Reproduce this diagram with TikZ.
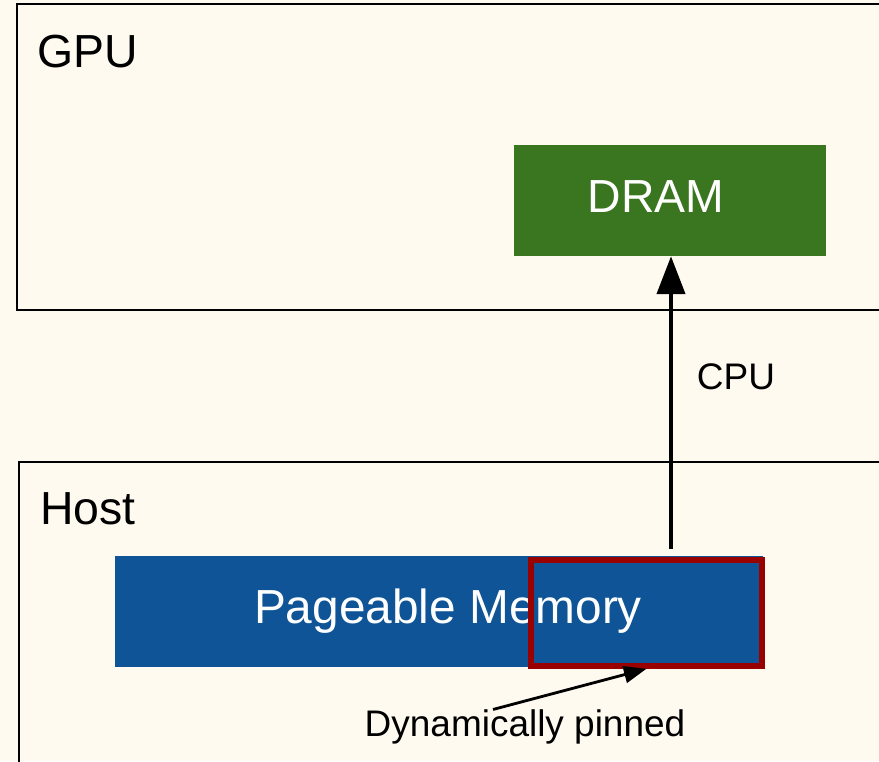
\documentclass[tikz,border=0pt]{standalone}
\usepackage{fontspec}
\setmainfont{Liberation Sans}
\usetikzlibrary{arrows.meta}

\definecolor{paper}{RGB}{255,250,240}
\definecolor{dramgreen}{RGB}{58,118,31}
\definecolor{memblue}{RGB}{14,84,150}
\definecolor{pinred}{RGB}{153,0,0}

\begin{document}
\begin{tikzpicture}[
		bigtext/.style={font=\fontsize{33}{40}\selectfont},
		smalltext/.style={font=\fontsize{26.3}{31}\selectfont},
		memblock/.style={inner sep=0, text=white, bigtext},
		boxlabel/.style={inner sep=0, anchor=base west, bigtext}
	]
		%%%%% START %%%%%
		
		\fill[paper] (0, 0) rectangle (21.975, 19.025);
		\useasboundingbox (0, 0) rectangle (21.975, 19.025);
		
		\draw[line width=0.8pt] (0.425, 18.925) rectangle (22.5, 11.275);
		\draw[line width=0.8pt] (0.475, 7.475) rectangle (22.5, -0.5);
		
		\node[boxlabel] (gpu) at (0.925, 17.325) {GPU};
		\node[boxlabel] (host) at (1.0, 5.9) {Host};
		
		\node[memblock, fill=dramgreen, minimum width=7.8cm, minimum height=2.775cm] (dram) at (16.75, 14.0125) {\raisebox{0.18cm}{DRAM}\kern0.7cm};
		\node[memblock, fill=memblue, minimum width=16.2cm, minimum height=2.775cm, font=\fontsize{34}{40}\selectfont] (pageable) at (10.975, 3.7375) {\kern0.45cm\raisebox{0.1cm}{Pageable Memory}};
		\node[draw=pinred, line width=4pt, inner sep=0, minimum width=5.775cm, minimum height=2.65cm] (pinned) at (16.16, 3.7) {};
		
		\coordinate (cpustart) at (16.775, 5.3);
		\draw[line width=2.8pt, -{Triangle[length=27pt, width=20pt]}] (cpustart) -- (cpustart |- dram.south)
			node[pos=0.587, right=0.6cm, smalltext, inner sep=0] (cpu) {CPU};
		
		\node[smalltext, inner sep=0] (pinlabel) at (13.125, 0.85) {Dynamically pinned};
		\draw[line width=2pt, -{Triangle[length=16pt, width=12pt]}] ([xshift=-0.8cm]pinlabel.north) -- (pinned.south);
		
		%%%%% END %%%%%
	\end{tikzpicture}
\end{document}
